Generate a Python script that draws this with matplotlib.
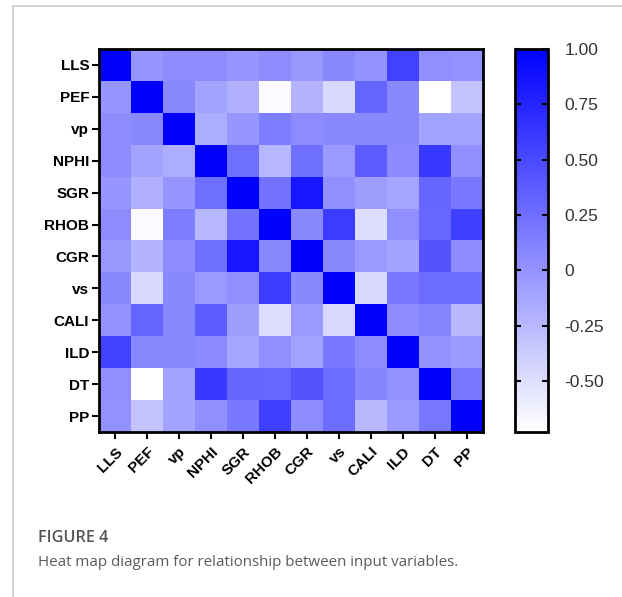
import numpy as np
import matplotlib
matplotlib.use("Agg")
import matplotlib.pyplot as plt
from matplotlib.colors import LinearSegmentedColormap
from matplotlib.lines import Line2D

# variable names, same order on both axes
labels = ["LLS", "PEF", "vp", "NPHI", "SGR", "RHOB", "CGR", "vs", "CALI", "ILD", "DT", "PP"]

# correlation rows
r_lls = [1.00, -0.02, 0.05, 0.05, -0.02, 0.05, -0.03, 0.07, 0.00, 0.55, 0.03, 0.02]
r_pef = [-0.02, 1.00, 0.08, -0.10, -0.19, -0.70, -0.21, -0.47, 0.32, 0.07, -0.73, -0.32]
r_vp = [0.05, 0.08, 1.00, -0.17, -0.02, 0.15, 0.05, 0.08, 0.08, 0.08, -0.10, -0.10]
r_nphi = [0.05, -0.10, -0.17, 1.00, 0.25, -0.24, 0.25, -0.04, 0.37, 0.06, 0.61, 0.03]
r_sgr = [-0.02, -0.19, -0.02, 0.25, 1.00, 0.22, 0.85, 0.03, -0.07, -0.12, 0.31, 0.17]
r_rhob = [0.05, -0.70, 0.15, -0.24, 0.22, 1.00, 0.07, 0.59, -0.50, 0.03, 0.30, 0.57]
r_cgr = [-0.03, -0.21, 0.05, 0.25, 0.85, 0.07, 1.00, 0.07, -0.04, -0.10, 0.43, 0.05]
r_vs = [0.07, -0.47, 0.08, -0.04, 0.03, 0.59, 0.07, 1.00, -0.46, 0.17, 0.27, 0.27]
r_cali = [0.00, 0.32, 0.08, 0.37, -0.07, -0.50, -0.04, -0.46, 1.00, 0.05, 0.10, -0.25]
r_ild = [0.55, 0.07, 0.08, 0.06, -0.12, 0.03, -0.10, 0.17, 0.05, 1.00, 0.00, -0.05]
r_dt = [0.03, -0.73, -0.10, 0.61, 0.31, 0.30, 0.43, 0.27, 0.10, 0.00, 1.00, 0.20]
r_pp = [0.02, -0.32, -0.10, 0.03, 0.17, 0.57, 0.05, 0.27, -0.25, -0.05, 0.20, 1.00]

cbar_ticks = [1.00, 0.75, 0.50, 0.25, 0, -0.25, -0.50]
cbar_ticklabels = ["1.00", "0.75", "0.50", "0.25", "0", "-0.25", "-0.50"]

corr = np.array([r_lls, r_pef, r_vp, r_nphi, r_sgr, r_rhob,
                 r_cgr, r_vs, r_cali, r_ild, r_dt, r_pp])

cmap = LinearSegmentedColormap.from_list("wb", ["#ffffff", "#0000ff"])

fig = plt.figure(figsize=(6.22, 5.97), dpi=100)

# light grey panel border (top and left)
fig.add_artist(Line2D([12.5 / 622, 1], [1 - 6 / 597, 1 - 6 / 597], color="#cccccc", lw=1.2))
fig.add_artist(Line2D([12.5 / 622, 12.5 / 622], [0, 1 - 6 / 597], color="#cccccc", lw=1.2))

ax = fig.add_axes([99 / 622, 1 - 432 / 597, 384 / 622, 383 / 597])
im = ax.imshow(corr, cmap=cmap, vmin=-0.73, vmax=1.0, aspect="auto", interpolation="nearest")

ax.set_xticks(range(len(labels)))
ax.set_yticks(range(len(labels)))
ax.set_xticklabels(labels, rotation=45, ha="right", rotation_mode="anchor",
                   fontsize=11, fontweight="bold", family="Liberation Sans")
ax.set_yticklabels(labels, fontsize=11, fontweight="bold", family="Liberation Sans")
ax.tick_params(axis="both", length=5, width=1.5, color="black", pad=2)
ax.tick_params(axis="x", pad=4)
for s in ax.spines.values():
    s.set_linewidth(2)
    s.set_color("black")

cax = fig.add_axes([515 / 622, 1 - 432 / 597, 33 / 622, 383 / 597])
cb = fig.colorbar(im, cax=cax, ticks=cbar_ticks)
cb.ax.set_yticklabels(cbar_ticklabels, fontsize=12.5, color="#333333", family="Liberation Sans")
cb.ax.tick_params(direction="in", length=4, width=1.5, left=True, right=True, pad=12)
cb.outline.set_linewidth(2)

fig.text(38 / 622, 1 - 538 / 597, "FIGURE 4", fontsize=11.7, color="#555555",
         fontweight="semibold", family="Open Sans", va="center")
fig.text(38 / 622, 1 - 562 / 597, "Heat map diagram for relationship between input variables.",
         fontsize=10.9, color="#5a5a5a", family="Open Sans", va="center")

fig.savefig("out.png", dpi=100)
